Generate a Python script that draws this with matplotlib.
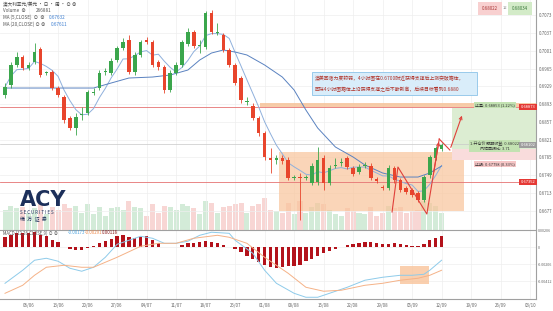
import numpy as np
import pandas as pd
import matplotlib
matplotlib.use('Agg')
import matplotlib.pyplot as plt
from matplotlib.patches import Rectangle

plt.rcParams['font.family'] = ['Noto Sans CJK SC', 'DejaVu Sans']

# 日线 OHLC (澳元/美元)
opens = [.69117, .69319, .69725, .69887, .69664, .69786, .70049, .69563, .69583, .69258,
         .69076, .68650, .68447, .68711, .68751, .69157, .69258, .69583, .69563, .69826,
         .70069, .70232, .69583, .69928, .70232, .70191, .69786, .69684, .69218, .69563,
         .69725, .70151, .70394, .70110, .70090, .70779, .70374, .70333, .70029, .69725,
         .69461, .68975, .68893, .68650, .68346, .67839, .67798, .67839, .67798, .67433,
         .67453, .67433, .67332, .67352, .67839, .67332, .67677, .67737, .67839, .67636,
         .67555, .67677, .67677, .67413, .67251, .67230, .67636, .67393, .67230, .67190,
         .67129, .66987, .67494, .67839, .68021]
highs = [.69360, .69786, .69988, .69928, .69786, .70171, .70090, .69603, .69623, .69299,
         .69117, .68691, .68751, .68873, .69218, .69258, .69623, .69664, .69867, .70110,
         .70272, .70333, .69988, .70232, .70293, .70232, .69826, .69725, .69623, .69786,
         .70232, .70475, .70435, .70232, .70820, .70840, .70577, .70374, .70069, .69765,
         .69502, .69076, .68954, .68691, .68386, .68042, .67900, .67900, .67859, .67494,
         .67535, .67494, .67737, .68062, .67900, .67697, .67839, .67839, .67880, .67677,
         .67717, .67758, .67737, .67453, .67291, .67697, .67677, .67433, .67271, .67230,
         .67170, .67494, .67900, .68082, .68143]
lows = [.69056, .69258, .69684, .69623, .69623, .69745, .69481, .69522, .69218, .69076,
        .68549, .68407, .68305, .68609, .68711, .69117, .69218, .69522, .69522, .69786,
        .70029, .69542, .69522, .69887, .70151, .69684, .69623, .69157, .69177, .69522,
        .69684, .70110, .70069, .69968, .70049, .70353, .70333, .69988, .69684, .69319,
        .68954, .68914, .68609, .68285, .67798, .67535, .67717, .67717, .67393, .67393,
        .66581, .67393, .67291, .67291, .67190, .67291, .67636, .67677, .67616, .67474,
        .67514, .67636, .67393, .67332, .67190, .67190, .67332, .67149, .67109, .67048,
        .66946, .66946, .67433, .67798, .67981]
closes = [.69279, .69725, .69887, .69664, .69725, .69988, .69522, .69583, .69258, .69117,
          .68609, .68447, .68670, .68731, .69177, .69177, .69563, .69603, .69806, .70069,
          .70191, .69583, .69928, .70191, .70191, .69725, .69684, .69218, .69563, .69725,
          .70191, .70394, .70110, .70130, .70779, .70394, .70394, .70029, .69725, .69360,
          .69015, .68995, .68650, .68346, .67859, .67798, .67839, .67778, .67433, .67453,
          .67433, .67453, .67677, .67798, .67332, .67636, .67697, .67758, .67656, .67514,
          .67656, .67697, .67433, .67372, .67230, .67636, .67393, .67190, .67149, .67088,
          .66987, .67453, .67859, .68042, .68102]
volumes = [70, 85, 75, 80, 60, 75, 95, 55, 80, 70, 90, 75, 85, 60, 90, 55, 80, 50, 75, 80,
           70, 100, 80, 75, 50, 90, 60, 85, 80, 70, 90, 85, 75, 55, 100, 95, 60, 80, 85, 90,
           95, 60, 85, 90, 110, 70, 65, 60, 95, 55, 100, 60, 80, 95, 90, 70, 55, 50, 75, 65,
           60, 55, 80, 50, 60, 85, 75, 80, 60, 65, 70, 100, 95, 85, 60]

# MA20 读图
ma20_idx = [0, 15, 18, 21, 25, 28, 31, 33, 35, 37, 39, 41, 44, 47, 49, 51, 53, 56, 59, 61, 64, 67, 70, 72, 74]
ma20_val = [.69258, .69258, .69360, .69461, .69481, .69522, .69623, .69826, .69968, .70029, .69988, .69928,
            .69725, .69481, .69218, .68812, .68447, .68062, .67859, .67697, .67535, .67453, .67453, .67535, .67677]

# MACD
macd_hist = [.00121, .00145, .00169, .00169, .00169, .00182, .00145, .00133, .00085, .00061,
             .00006, -.00024, -.00036, -.00036, -.00006, .00012, .00048, .00073, .00097, .00133,
             .00145, .00121, .00109, .00121, .00133, .00085, .00048, .00004, .00004, .00006,
             .00024, .00048, .00048, .00061, .00073, .00061, .00048, .00024, .00002, -.00024,
             -.00061, -.00109, -.00145, -.00182, -.00218, -.00242, -.00254, -.00242, -.00230, -.00230,
             -.00218, -.00169, -.00145, -.00109, -.00073, -.00048, -.00024, .00002, .00024, .00036,
             .00048, .00061, .00061, .00048, .00036, .00036, .00048, .00036, .00024, .00018,
             .00018, .00036, .00085, .00109, .00133]
dif_idx = [0, 3, 5, 7, 9, 11, 13, 15, 17, 19, 23, 25, 27, 29, 31, 33, 35, 38, 39, 42, 44, 46, 49, 51, 53,
           55, 58, 61, 64, 67, 69, 71, 72, 74]
dif_val = [-.00436, -.00278, -.00157, -.00133, -.00169, -.00254, -.00290, -.00242, -.00121, .00036,
           .00133, .00109, .00048, .00048, .00073, .00145, .00182, .00169, .00085, -.00073,
           -.00278, -.00436, -.00557, -.00605, -.00605, -.00557, -.00484, -.00399, -.00363, -.00339,
           -.00339, -.00327, -.00278, -.00157]
dea_idx = [0, 3, 5, 7, 10, 13, 15, 19, 23, 26, 29, 32, 36, 38, 41, 44, 48, 51, 54, 57, 61, 64, 67, 70, 72, 74]
dea_val = [-.00557, -.00460, -.00339, -.00242, -.00218, -.00242, -.00242, -.00121, .00012, .00048,
           .00048, .00109, .00145, .00121, .00048, -.00121, -.00315, -.00484, -.00532, -.00520,
           -.00460, -.00436, -.00399, -.00375, -.00339, -.00278]

date_labels = ['06/06', '13/06', '20/06', '27/06', '04/07', '11/07', '18/07', '25/07', '01/08',
               '08/08', '15/08', '22/08', '29/08', '05/09', '12/09', '19/09', '26/09', '03/10']
price_ticks = [0.7073, 0.7037, 0.7001, 0.6965, 0.6929, 0.6893, 0.6857, 0.6821, 0.6785, 0.6749, 0.6713, 0.6677]
macd_ticks = [0.00206, 0.0, -0.00206, -0.00412]
macd_tick_labels = ['0.00206', '0', '-0.00206', '-0.00412']

# 关键价位
tp_level = 0.68873
sl_line = 0.67352
last_line = 0.68123
entry, target, stop = 0.68022, 0.68853, 0.67798

n = len(closes)
x = np.arange(n)
o, h, l, c = map(np.array, (opens, highs, lows, closes))
up = c >= o
up_col, dn_col = '#3ba64c', '#e8452c'
cols = np.where(up, up_col, dn_col)

W, H = 553, 311
def fx(px):
    return px / W
def fy(py):
    return 1 - py / H

fig = plt.figure(figsize=(5.53, 3.11), dpi=100)
pos_main = [0, fy(230), fx(536), 230 / H]
pos_macd = [0, fy(299), fx(536), 69 / H]

# 成交量 (底层)
axv = fig.add_axes(pos_main)
vcols = np.where(up, '#d3ebd8', '#f8d6d4')
axv.bar(x, volumes, width=0.85, color=vcols, linewidth=0)
axv.set_ylim(0, 800)
axv.set_xlim(-0.85, 90)
axv.axis('off')

ax = fig.add_axes(pos_main)
ax.patch.set_visible(False)
ax.set_xlim(-0.85, 90)
ax.set_ylim(0.66379, 0.71043)

# 箱体 / 区域
ax.add_patch(Rectangle((46.4, 0.66764), 31.4, 0.6796 - 0.66764, facecolor='#f9c49a', alpha=0.7, lw=0, zorder=1))
ax.add_patch(Rectangle((43.2, tp_level), 47, 0.68954 - tp_level, facecolor='#f6c39a', alpha=0.85, lw=0, zorder=1))
ax.add_patch(Rectangle((75.8, entry), 15, target - entry, facecolor='#dcedd2', lw=0, zorder=1))
ax.add_patch(Rectangle((75.8, stop), 15, entry - stop, facecolor='#f9dcdc', lw=0, zorder=1))

ax.axhline(tp_level, color='#e57373', lw=0.6, zorder=2)
ax.axhline(sl_line, color='#e57373', lw=0.6, zorder=2)
ax.axhline(last_line, color='#c8c8c8', lw=0.5, zorder=2)

# 均线
ma5 = pd.Series(closes).rolling(5, min_periods=1).mean()
ax.plot(x, ma5, color='#8fb0dc', lw=0.7, zorder=2.5)
ax.plot(ma20_idx, ma20_val, color='#5a82c0', lw=0.7, zorder=2.5)

# K线
ax.vlines(x, l, h, colors=cols, lw=0.6, zorder=3)
body_lo = np.minimum(o, c)
body_h = np.maximum(np.abs(c - o), 0.00018)
ax.bar(x, body_h, bottom=body_lo, width=0.6, color=cols, linewidth=0, zorder=4)

# 红色走势箭头
zx = [65.6, 66.6, 71.5, 73.6]
zy = [0.66744, 0.67656, 0.66703, 0.68224]
ax.plot(zx, zy, color='#e0403a', lw=0.8, zorder=5)
ax.annotate('', xy=(73.6, 0.68224), xytext=(72.6, 0.67500),
            arrowprops=dict(arrowstyle='->', color='#e0403a', lw=0.8, mutation_scale=5), zorder=5)
ax.plot([73.6, 75.4], [0.68224, 0.68001], color='#e0403a', lw=0.8, zorder=5)
ax.annotate('', xy=(77.6, 0.68751), xytext=(75.4, 0.68001),
            arrowprops=dict(arrowstyle='->', color='#e0403a', lw=0.8, mutation_scale=5), zorder=5)

# 多单工具标签
fs = 2.9
ax.text(83.0, 0.68905, '止盈: 0.68853 (1.22%)', fontsize=fs, ha='center', va='center', color='#333',
        bbox=dict(boxstyle='square,pad=0.25', fc='#c3e2b2', ec='none'), zorder=6)
ax.text(83.0, 0.68080, '1.开仓价 预期收益: 0.68022\n风险回报比: 3.71', fontsize=fs, ha='center', va='center',
        color='#333', linespacing=1.3, bbox=dict(boxstyle='square,pad=0.25', fc='#c3e2b2', ec='none'), zorder=6)
ax.text(83.0, 0.67717, '止损: 0.67798 (0.33%)', fontsize=fs, ha='center', va='center', color='#333',
        bbox=dict(boxstyle='square,pad=0.25', fc='#f6c6c6', ec='none'), zorder=6)

# 右侧价格标签
tag_fs = 2.9
ax.text(89.9, tp_level, '0.68873', fontsize=tag_fs, ha='right', va='center', color='white',
        bbox=dict(boxstyle='square,pad=0.3', fc='#e53935', ec='none'), zorder=7)
ax.text(89.9, sl_line, '0.67352', fontsize=tag_fs, ha='right', va='center', color='white',
        bbox=dict(boxstyle='square,pad=0.3', fc='#e53935', ec='none'), zorder=7)
ax.text(89.9, 0.68102, '0.68102', fontsize=tag_fs, ha='right', va='center', color='white',
        bbox=dict(boxstyle='square,pad=0.3', fc='#9e9e9e', ec='none'), zorder=7)

# 分析文字框
ax.add_patch(Rectangle((0.582, 0.587), 0.308, 0.100, transform=ax.transAxes, facecolor='#d9edfa',
                       edgecolor='#8cc3e8', lw=0.6, zorder=6))
ax.text(0.587, 0.660, '澳美回落力度较弱，4小时图在0.6700附近获得支撑后上涨突破箱体，', transform=ax.transAxes,
        fontsize=3.5, color='#b0332a', va='center', zorder=7)
ax.text(0.587, 0.612, '回踩4小时图箱体上沿获得支撑之后不断新高，后续目标看到0.6880', transform=ax.transAxes,
        fontsize=3.5, color='#b0332a', va='center', zorder=7)

# 坐标轴样式
xt = list(range(4, 90, 5))
ax.set_xticks(xt)
ax.set_xticklabels([])
ax.set_yticks(price_ticks)
ax.set_yticklabels([f'{v:.4f}' for v in price_ticks])
ax.yaxis.tick_right()
ax.tick_params(axis='y', length=0, labelsize=3.2, colors='#666', pad=2)
ax.tick_params(axis='x', length=0)
ax.grid(color='#eeeeee', lw=0.5)
ax.set_axisbelow(True)
for s in ['top', 'left', 'bottom']:
    ax.spines[s].set_visible(False)
ax.spines['right'].set_color('#a0a0a0')
ax.spines['right'].set_linewidth(0.8)

# MACD 副图
axm = fig.add_axes(pos_macd)
axm.set_xlim(-0.85, 90)
axm.set_ylim(-0.00626, 0.00209)
axm.add_patch(Rectangle((66.9, -0.00448), 5.0, 0.00222, facecolor='#f9c49a', alpha=0.8, lw=0, zorder=1))
axm.bar(x, macd_hist, width=0.55, color='#b3121b', linewidth=0, zorder=3)
axm.plot(dif_idx, dif_val, color='#8ecbea', lw=0.7, zorder=4)
axm.plot(dea_idx, dea_val, color='#f5b287', lw=0.7, zorder=4)
axm.set_xticks(xt)
axm.set_xticklabels(date_labels)
axm.set_yticks(macd_ticks)
axm.set_yticklabels(macd_tick_labels)
axm.yaxis.tick_right()
axm.tick_params(axis='y', length=0, labelsize=2.7, colors='#666', pad=1)
axm.tick_params(axis='x', length=0, labelsize=3.2, colors='#666', pad=3)
axm.grid(color='#eeeeee', lw=0.5)
axm.set_axisbelow(True)
axm.spines['left'].set_visible(False)
for s in ['top', 'bottom', 'right']:
    axm.spines[s].set_color('#a0a0a0')
    axm.spines[s].set_linewidth(0.8)

# 图例文字
lfs = 3.3
fig.text(fx(3), fy(4), '澳大利亚元/美元 · 日 · 周 · ⊙ ⊗', fontsize=lfs, color='#444', va='center')
fig.text(fx(3), fy(11), 'Volume  ⊗', fontsize=lfs, color='#555', va='center')
fig.text(fx(36), fy(11), '266881', fontsize=lfs, color='#555', va='center')
fig.text(fx(3), fy(17.5), 'MA (5,CLOSE)  ⊙  ⊗', fontsize=lfs, color='#555', va='center')
fig.text(fx(49), fy(17.5), '0.67632', fontsize=lfs, color='#3d7fd1', va='center')
fig.text(fx(3), fy(24.5), 'MA (20,CLOSE) ⊙ ⊗', fontsize=lfs, color='#555', va='center')
fig.text(fx(51), fy(24.5), '0.67611', fontsize=lfs, color='#3d7fd1', va='center')

fig.text(fx(3), fy(233), 'MACD (12,26,CLOSE,9) ⊙ ⊗', fontsize=3.1, color='#555', va='center')
fig.text(fx(68), fy(233), '-0.00173', fontsize=3.1, color='#4aa3df', va='center')
fig.text(fx(85), fy(233), '-0.00291', fontsize=3.1, color='#f08a4b', va='center')
fig.text(fx(102), fy(233), '0.00118', fontsize=3.1, color='#8b1a1a', va='center')

# 买卖价
fig.text(fx(490), fy(8), '0.68022', fontsize=3.2, color='#a33', ha='center', va='center',
         bbox=dict(boxstyle='square,pad=0.9', fc='#f8d0d0', ec='none'))
fig.text(fx(505), fy(8), '12', fontsize=3, color='#888', ha='center', va='center')
fig.text(fx(520), fy(8), '0.68034', fontsize=3.2, color='#3a7a3a', ha='center', va='center',
         bbox=dict(boxstyle='square,pad=0.9', fc='#d3ebc8', ec='none'))

# 标志
fig.text(fx(20), fy(200), 'ACY', fontsize=15, fontweight='bold', color='#1c2f5a', va='center',
         family=['DejaVu Sans'])
fig.text(fx(20), fy(212), 'S E C U R I T I E S', fontsize=3.2, color='#1c2f5a', va='center')
fig.text(fx(20), fy(219), '稀  万  证  券', fontsize=3.6, color='#1c2f5a', va='center')

fig.savefig('out.png', dpi=100)
